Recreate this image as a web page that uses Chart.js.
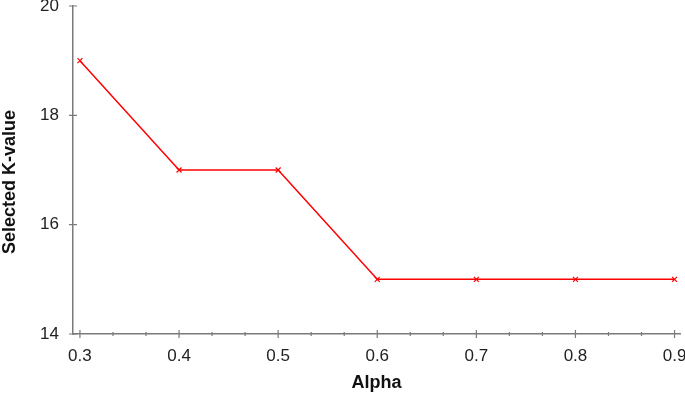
<!DOCTYPE html>
<html>
<head>
<meta charset="utf-8">
<script src="https://cdn.jsdelivr.net/npm/chart.js@4/dist/chart.umd.min.js"></script>
<style>
  html, body { margin: 0; padding: 0; background: #fff; overflow: hidden; width: 685px; height: 396px; }
  #wrap { position: absolute; left: 0; top: -40px; width: 700px; height: 436px; }
</style>
</head>
<body>
<div id="wrap"><canvas id="c" width="700" height="436"></canvas></div>
<script>
const alphaValues = [0.3, 0.4, 0.5, 0.6, 0.7, 0.8, 0.9];
const kValues = [19, 17, 17, 15, 15, 15, 15];
const xTickValues = [0.3, 0.4, 0.5, 0.6, 0.7, 0.8, 0.9];
const yTickValues = [14, 16, 18, 20];
const xLabel = 'Alpha';
const yLabel = 'Selected K-value';

const axisColor = '#7a7a7a';
const fontFamily = "'Liberation Sans', Arial, sans-serif";

const tickMarks = {
  id: 'tickMarks',
  afterDraw(chart) {
    const ctx = chart.ctx;
    const xs = chart.scales.x, ys = chart.scales.y;
    const area = chart.chartArea;
    const axY = area.bottom, axX = area.left;
    ctx.save();
    ctx.strokeStyle = axisColor;
    ctx.lineWidth = 1.2;
    ctx.beginPath();
    for (let i = 0; i < xTickValues.length; i++) {
      const v = xTickValues[i];
      const px = xs.getPixelForValue(v);
      ctx.moveTo(px, axY - 4); ctx.lineTo(px, axY + 4);
      if (i < xTickValues.length - 1) {
        const step = (xTickValues[i + 1] - v) / 3;
        for (let k = 1; k < 3; k++) {
          const mp = xs.getPixelForValue(v + k * step);
          ctx.moveTo(mp, axY - 2); ctx.lineTo(mp, axY + 2);
        }
      }
    }
    for (const v of yTickValues) {
      const py = ys.getPixelForValue(v);
      ctx.moveTo(axX - 4, py); ctx.lineTo(axX + 4, py);
    }
    ctx.stroke();
    // y-axis title
    ctx.translate(10, (area.top + area.bottom) / 2 + 12);
    ctx.rotate(-Math.PI / 2);
    ctx.fillStyle = '#111';
    ctx.font = "bold 18px " + fontFamily;
    ctx.textAlign = 'center';
    ctx.textBaseline = 'middle';
    ctx.fillText(yLabel, 0, 0);
    ctx.restore();
  }
};

new Chart(document.getElementById('c'), {
  type: 'line',
  data: {
    datasets: [{
      data: alphaValues.map((a, i) => ({ x: a, y: kValues[i] })),
      borderColor: '#ff0000',
      backgroundColor: '#ff0000',
      borderWidth: 1.5,
      pointStyle: 'crossRot',
      pointRadius: 3.5,
      pointBorderWidth: 1.2,
      pointBorderColor: '#ff0000',
      tension: 0,
      fill: false
    }]
  },
  options: {
    responsive: false,
    animation: false,
    layout: { padding: { top: 46, right: 20, left: 0, bottom: 0 } },
    plugins: { legend: { display: false }, tooltip: { enabled: false } },
    scales: {
      x: {
        type: 'linear',
        min: 0.293,
        max: 0.9055,
        afterBuildTicks: (s) => { s.ticks = xTickValues.map(v => ({ value: v })); },
        afterFit: (s) => { s.height = 62; },
        grid: { display: false, drawTicks: false },
        border: { display: true, color: axisColor, width: 1.5 },
        ticks: {
          color: '#222',
          font: { family: fontFamily, size: 17 },
          padding: 12,
          maxRotation: 0,
          autoSkip: false,
          callback: (v) => v.toFixed(1)
        },
        title: {
          display: true, text: xLabel, color: '#111',
          font: { family: fontFamily, size: 18, weight: 'bold' },
          padding: { top: 2, bottom: 2 }
        }
      },
      y: {
        min: 14,
        max: 20,
        afterBuildTicks: (s) => { s.ticks = yTickValues.map(v => ({ value: v })); },
        afterFit: (s) => { s.width = 73; },
        grid: { display: false, drawTicks: false },
        border: { display: true, color: axisColor, width: 1.5 },
        ticks: {
          color: '#222',
          font: { family: fontFamily, size: 17 },
          padding: 14,
          autoSkip: false
        },
        title: { display: false, text: yLabel }
      }
    }
  },
  plugins: [tickMarks]
});
</script>
</body>
</html>
